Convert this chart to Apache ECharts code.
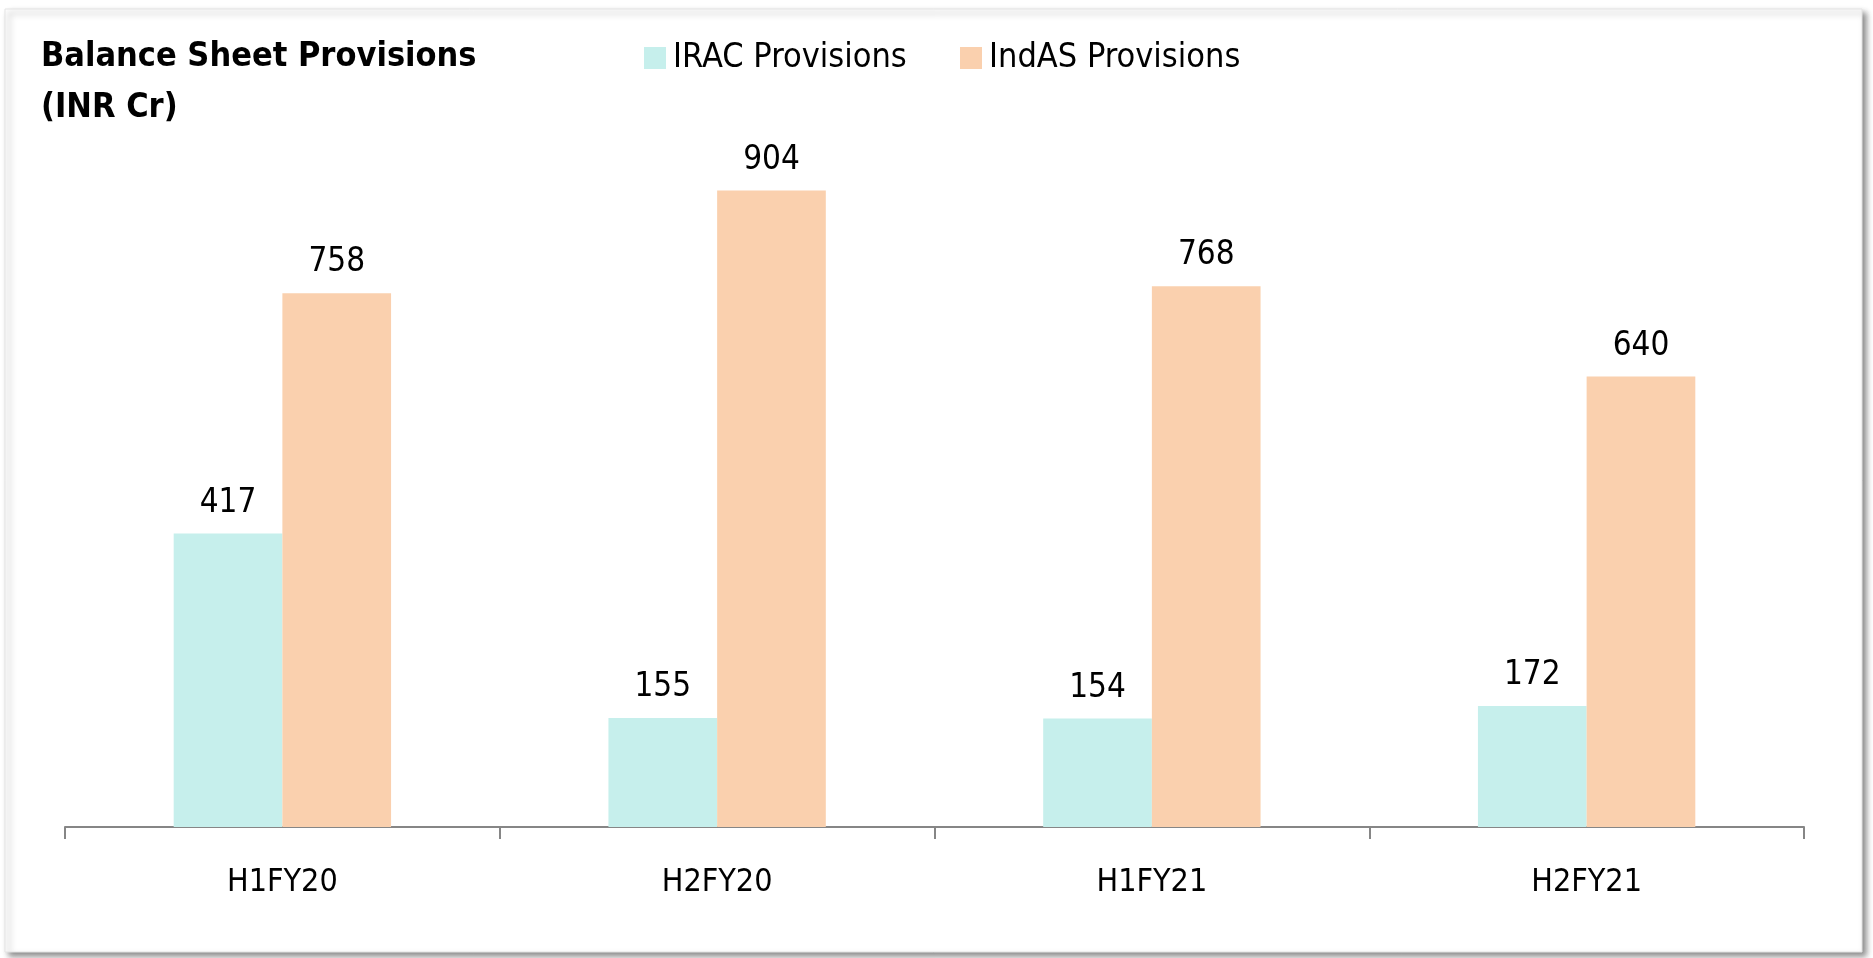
<!DOCTYPE html>
<html>
<head>
<meta charset="utf-8">
<title>Balance Sheet Provisions</title>
<script src="https://cdn.jsdelivr.net/npm/echarts@6/dist/echarts.min.js"></script>
<style>
  html, body { margin: 0; padding: 0; background: #fff; }
  #chart { width: 1873px; height: 958px; }
</style>
</head>
<body>
<div id="chart"></div>
<script>
const categories = ['H1FY20', 'H2FY20', 'H1FY21', 'H2FY21'];
const iracProvisions = [417, 155, 154, 172];
const indasProvisions = [758, 904, 768, 640];

const FONT = "'DejaVu Sans Condensed', 'DejaVu Sans', sans-serif";
const AXIS_GREY = '#868686';

const chart = echarts.init(document.getElementById('chart'));
chart.setOption({
  animation: false,
  // card frame with the drop shadow
  graphic: [{
    type: 'rect',
    silent: true,
    z: 0,
    shape: { x: 5, y: 9, width: 1857, height: 943 },
    style: {
      fill: '#fff',
      stroke: '#e3e3e3',
      lineWidth: 1,
      shadowBlur: 6,
      shadowOffsetX: 4,
      shadowOffsetY: 4,
      shadowColor: 'rgba(0,0,0,0.45)'
    }
  }],
  title: {
    text: 'Balance Sheet Provisions\n(INR Cr)',
    left: 36,
    top: 27,
    textStyle: {
      fontFamily: FONT,
      fontWeight: 'bold',
      fontSize: 34,
      lineHeight: 51,
      color: '#000'
    }
  },
  legend: [{
    data: ['IRAC Provisions'],
    left: 644,
    top: 41,
    padding: 0,
    itemWidth: 22,
    itemHeight: 22,
    icon: 'rect',
    textStyle: { fontFamily: FONT, fontSize: 34, color: '#000', padding: [0, 0, 0, 2] }
  }, {
    data: ['IndAS Provisions'],
    left: 960,
    top: 41,
    padding: 0,
    itemWidth: 22,
    itemHeight: 22,
    icon: 'rect',
    textStyle: { fontFamily: FONT, fontSize: 34, color: '#000', padding: [0, 0, 0, 2] }
  }],
  grid: {
    left: 65,
    right: 69,
    top: 123,
    bottom: 131
  },
  xAxis: {
    type: 'category',
    data: categories,
    axisLine: { show: true, lineStyle: { color: AXIS_GREY, width: 2 } },
    axisTick: { show: true, interval: 0, length: 12, lineStyle: { color: AXIS_GREY, width: 2 } },
    axisLabel: { fontFamily: FONT, fontSize: 32, color: '#000', margin: 40 }
  },
  yAxis: {
    type: 'value',
    show: false,
    min: 0,
    max: 1000,
    splitLine: { show: false }
  },
  series: [{
    name: 'IRAC Provisions',
    type: 'bar',
    data: iracProvisions,
    barGap: '0%',
    barCategoryGap: '50%',
    itemStyle: { color: '#C6EFEC' },
    label: { show: true, position: 'top', distance: 14, fontFamily: FONT, fontSize: 33, color: '#000' }
  }, {
    name: 'IndAS Provisions',
    type: 'bar',
    data: indasProvisions,
    barGap: '0%',
    barCategoryGap: '50%',
    itemStyle: { color: '#FAD0AE' },
    label: { show: true, position: 'top', distance: 14, fontFamily: FONT, fontSize: 33, color: '#000' }
  }]
});
</script>
</body>
</html>
